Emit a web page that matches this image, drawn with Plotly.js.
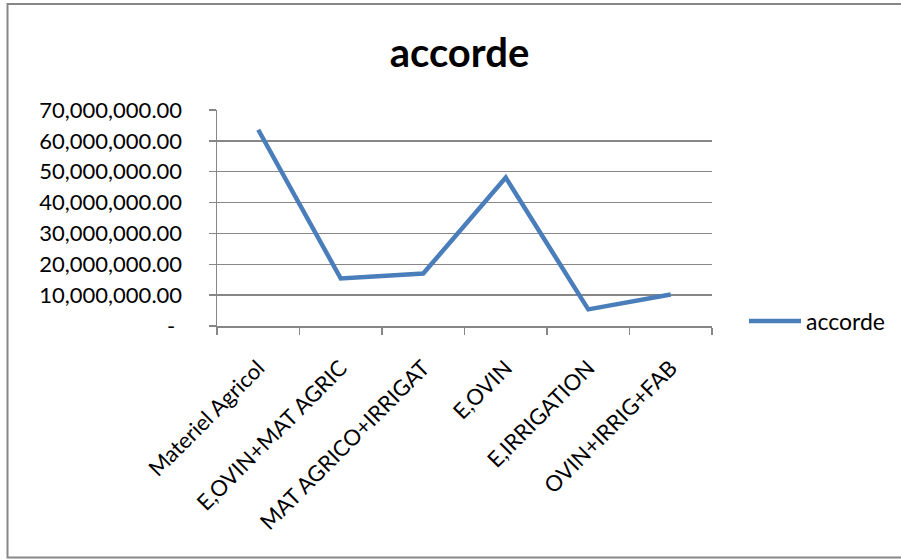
<!DOCTYPE html>
<html>
<head>
<meta charset="utf-8">
<script src="https://cdn.plot.ly/plotly-3.0.1.min.js"></script>
<style>
  html, body { margin: 0; padding: 0; background: #ffffff; }
  #chart { width: 901px; height: 560px; }
</style>
</head>
<body>
<div id="chart"></div>
<script>
// Categories and amounts (accorde)
const categories = [
  "Materiel Agricol",
  "E,OVIN+MAT AGRIC",
  "MAT AGRICO+IRRIGAT",
  "E,OVIN",
  "E,IRRIGATION",
  "OVIN+IRRIG+FAB"
];
const accorde = [63600000, 15400000, 17000000, 48100000, 5400000, 10200000];

// Y-axis tick values and their accounting-style labels
const yTickVals = [0, 10000000, 20000000, 30000000, 40000000, 50000000, 60000000, 70000000];
const yTickText = ["-\u00a0\u200a", "10,000,000.00", "20,000,000.00", "30,000,000.00",
                   "40,000,000.00", "50,000,000.00", "60,000,000.00", "70,000,000.00"];

const W = 901, H = 560;
const M = { l: 217, r: 189, t: 110, b: 234, autoexpand: false };
const pw = W - M.l - M.r, ph = H - M.t - M.b;
// outer chart frame, in pixels, converted to paper units
const px = x => (x - M.l) / pw;
const py = y => 1 - (y - M.t) / ph;

const gray = "#878787";
const font = "Lato, 'Open Sans', sans-serif";

const trace = {
  type: "scatter",
  mode: "lines",
  name: "accorde",
  x: categories,
  y: accorde,
  line: { color: "#4a7ebb", width: 4.5 }
};

const layout = {
  width: W, height: H,
  margin: M,
  paper_bgcolor: "#ffffff",
  plot_bgcolor: "#ffffff",
  font: { family: font, color: "#000000", size: 22 },
  title: {
    text: "<b>accorde</b>",
    font: { family: font, size: 40, color: "#000000" },
    x: 0.51, xanchor: "center",
    y: 0.905, yanchor: "middle"
  },
  xaxis: {
    type: "category",
    range: [-0.5, categories.length - 0.5],
    tickangle: -45,
    tickson: "boundaries",
    ticks: "outside",
    ticklen: 7,
    tickcolor: gray,
    tickwidth: 1.5,
    ticklabelstandoff: 19,
    showline: true,
    linecolor: gray,
    linewidth: 1.5,
    showgrid: false,
    tickfont: { family: font, size: 22, color: "#000000" },
    fixedrange: true
  },
  yaxis: {
    range: [0, 70000000],
    tickvals: yTickVals,
    ticktext: yTickText,
    ticks: "outside",
    ticklen: 7,
    tickcolor: gray,
    tickwidth: 1.5,
    ticklabelstandoff: 22,
    showline: true,
    linecolor: gray,
    linewidth: 1.5,
    showgrid: true,
    gridcolor: gray,
    gridwidth: 1.5,
    zeroline: false,
    tickfont: { family: font, size: 22, color: "#000000" },
    fixedrange: true
  },
  showlegend: true,
  legend: {
    x: px(744), xanchor: "left",
    y: py(321), yanchor: "middle",
    itemwidth: 52,
    font: { family: font, size: 23, color: "#000000" },
    bgcolor: "rgba(0,0,0,0)"
  },
  shapes: [{
    type: "rect",
    xref: "paper", yref: "paper",
    x0: px(7.5), x1: px(905),
    y0: py(557.5), y1: py(4),
    line: { color: gray, width: 2 },
    fillcolor: "rgba(0,0,0,0)",
    layer: "below"
  }]
};

Plotly.newPlot("chart", [trace], layout, { displayModeBar: false, staticPlot: true });
</script>
</body>
</html>
